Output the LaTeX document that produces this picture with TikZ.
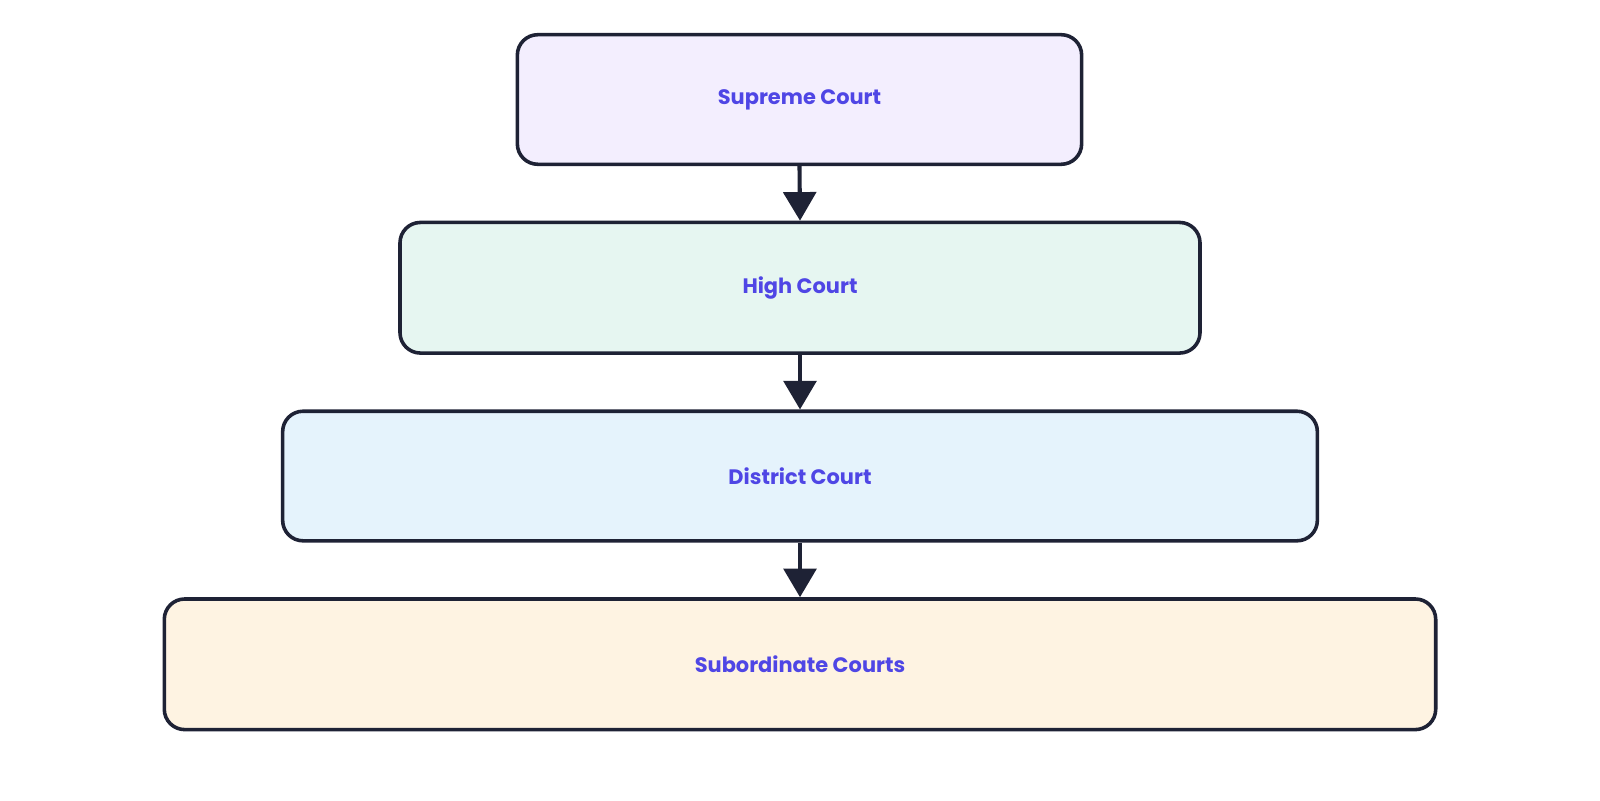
\documentclass[tikz,border=0pt]{standalone}
\usepackage{fontspec}
\setmainfont{Poppins}
\usetikzlibrary{arrows.meta}
\definecolor{strk}{HTML}{1E2235}
\definecolor{txt}{HTML}{4F46E5}
\definecolor{f1}{HTML}{F3EEFE}
\definecolor{f2}{HTML}{E6F6F1}
\definecolor{f3}{HTML}{E5F3FC}
\definecolor{f4}{HTML}{FEF3E2}
\newcommand{\lbl}[1]{\raisebox{-4pt}{#1}}
\begin{document}
\begin{tikzpicture}[x=1pt,y=-1pt,
  box/.style={draw=strk,line width=3.5pt,rounded corners=20pt,inner sep=0pt,
    font=\fontsize{20.5}{24}\selectfont\bfseries,text=txt},
  arr/.style={draw=strk,line width=4pt,-{Triangle[width=32pt,length=28pt]}}]
\useasboundingbox (0,0) rectangle (1568,784);
\node[box,fill=f1,minimum width=553pt,minimum height=127pt] (s) at (783.5,97.5) {\lbl{Supreme Court}};
\node[box,fill=f2,minimum width=784pt,minimum height=128pt] (h) at (784,282) {\lbl{High Court}};
\node[box,fill=f3,minimum width=1014pt,minimum height=127pt] (d) at (784,466.5) {\lbl{District Court}};
\node[box,fill=f4,minimum width=1246pt,minimum height=128pt] (b) at (784,651) {\lbl{Subordinate Courts}};
\draw[arr] (s.south) -- (h.north);
\draw[arr] (h.south) -- (d.north);
\draw[arr] (d.south) -- (b.north);
\end{tikzpicture}
\end{document}
